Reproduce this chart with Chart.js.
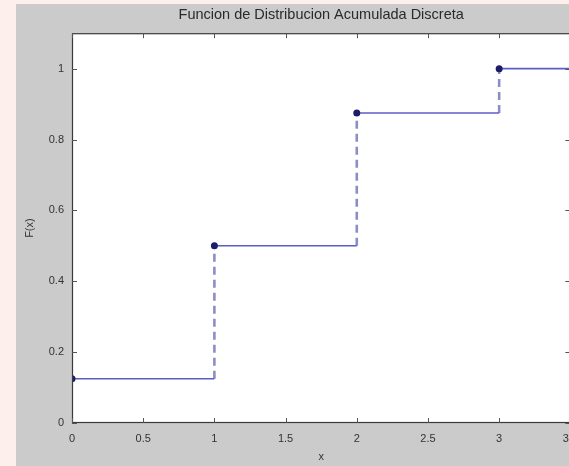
<!DOCTYPE html>
<html><head><meta charset="utf-8">
<script src="https://cdn.jsdelivr.net/npm/chart.js@4"></script>
<style>
html,body{margin:0;padding:0;width:569px;height:466px;overflow:hidden;background:#fcefec;}
#panel{position:absolute;left:16px;top:4px;width:553px;height:462px;background:#cbcbcb;overflow:hidden;}
#wrap{position:absolute;left:0;top:0;width:571px;height:462px;}
</style></head>
<body>
<div id="panel"><div id="wrap"><canvas id="c" width="571" height="462"></canvas></div></div>
<script>
// Data
const STEP_X = [0, 1, 2, 3];
const CDF_Y = [0.125, 0.5, 0.875, 1.0];
const X_END = 3.5;
const X_TICKS = [0, 0.5, 1, 1.5, 2, 2.5, 3, 3.5];
const Y_TICKS = [0, 0.2, 0.4, 0.6, 0.8, 1];
const TITLE = 'Funcion de Distribucion Acumulada Discreta';
const X_LABEL = 'x';
const Y_LABEL = 'F(x)';

const horiz = [];
for (let i = 0; i < STEP_X.length; i++) {
  const x0 = STEP_X[i];
  const x1 = i + 1 < STEP_X.length ? STEP_X[i + 1] : X_END;
  horiz.push({x: x0, y: CDF_Y[i]}, {x: x1, y: CDF_Y[i]});
  if (i + 1 < STEP_X.length) horiz.push({x: (x0 + x1) / 2, y: null});
}
const vert = [];
for (let i = 1; i < STEP_X.length; i++) {
  vert.push({x: STEP_X[i], y: CDF_Y[i - 1]}, {x: STEP_X[i], y: CDF_Y[i]});
  if (i + 1 < STEP_X.length) vert.push({x: STEP_X[i] + 0.5, y: null});
}
const marks = STEP_X.map((x, i) => ({x: x, y: CDF_Y[i]}));

const FONT = 'Liberation Sans, Arial, sans-serif';

const boxPlugin = {
  id: 'box',
  beforeDraw(chart) {
    const a = chart.chartArea, ctx = chart.ctx;
    ctx.save(); ctx.fillStyle = '#ffffff';
    ctx.fillRect(a.left, a.top, a.right - a.left, a.bottom - a.top);
    ctx.restore();
  },
  afterDraw(chart) {
    const a = chart.chartArea, ctx = chart.ctx;
    const xs = chart.scales.x, ys = chart.scales.y;
    ctx.save();
    ctx.strokeStyle = '#3a3a3a'; ctx.lineWidth = 1.2;
    ctx.strokeRect(a.left + 0.5, a.top + 0.5, a.right - a.left - 1, a.bottom - a.top - 1);
    ctx.strokeStyle = '#555'; ctx.lineWidth = 1;
    const L = 5;
    ctx.beginPath();
    X_TICKS.forEach(v => {
      const p = Math.round(xs.getPixelForValue(v)) + 0.5;
      ctx.moveTo(p, a.bottom); ctx.lineTo(p, a.bottom - L);
      ctx.moveTo(p, a.top); ctx.lineTo(p, a.top + L);
    });
    Y_TICKS.forEach(v => {
      const p = Math.round(ys.getPixelForValue(v)) + 0.5;
      ctx.moveTo(a.left, p); ctx.lineTo(a.left + L, p);
      ctx.moveTo(a.right, p); ctx.lineTo(a.right - L, p);
    });
    ctx.stroke();
    ctx.restore();
  }
};

new Chart(document.getElementById('c'), {
  type: 'scatter',
  data: {
    datasets: [
      {data: horiz, showLine: true, borderColor: '#5d5dc6', borderWidth: 1.6, pointRadius: 0, spanGaps: false, order: 2},
      {data: vert, showLine: true, borderColor: '#8d8dc6', borderWidth: 2.6, borderDash: [8, 5], pointRadius: 0, spanGaps: false, order: 3},
      {data: marks, showLine: false, pointRadius: 3.5, pointBackgroundColor: '#1c1c6a', pointBorderColor: '#1c1c6a', pointBorderWidth: 0, order: 1}
    ]
  },
  options: {
    responsive: false, animation: false, devicePixelRatio: 1,
    layout: {padding: {left: 0, right: 12, top: 0, bottom: 0}},
    plugins: {
      legend: {display: false}, tooltip: {enabled: false},
      title: {display: true, fullSize: false, text: TITLE, color: '#2a2a2a', font: {family: FONT, size: 14.5, weight: 'normal'}, padding: {top: 1.8, bottom: 10}}
    },
    scales: {
      x: {
        type: 'linear', min: 0, max: X_END,
        grid: {display: false, drawTicks: false}, border: {display: false},
        afterBuildTicks: s => { s.ticks = X_TICKS.map(v => ({value: v})); },
        afterFit: s => { s.height = 43; },
        ticks: {padding: 9, color: '#333', maxRotation: 0, font: {family: FONT, size: 11}, callback: v => String(v)},
        title: {display: true, text: X_LABEL, color: '#333', font: {family: FONT, size: 11}, padding: {top: 0, bottom: 2.4}}
      },
      y: {
        type: 'linear', min: 0, max: 1.1,
        grid: {display: false, drawTicks: false}, border: {display: false},
        afterBuildTicks: s => { s.ticks = Y_TICKS.map(v => ({value: v})); },
        afterFit: s => { s.width = 56; },
        ticks: {padding: 8, color: '#333', font: {family: FONT, size: 11}, callback: v => String(v)},
        title: {display: true, text: Y_LABEL, color: '#333', font: {family: FONT, size: 11}, padding: {top: 7.4, bottom: 0}}
      }
    }
  },
  plugins: [boxPlugin]
});
</script>
</body></html>
